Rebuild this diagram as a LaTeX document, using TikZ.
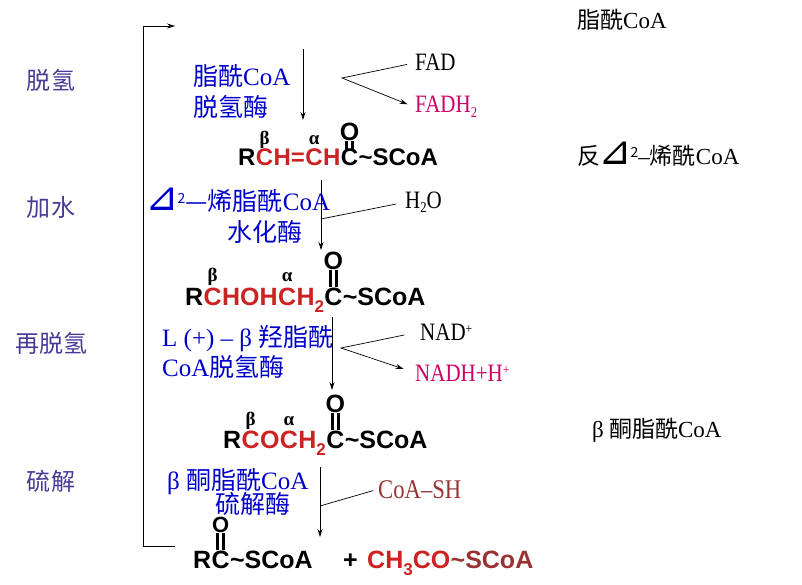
\documentclass[tikz,border=0pt]{standalone}
\usepackage{fontspec}
\usetikzlibrary{arrows.meta}
\setmainfont{Liberation Serif}
\newfontfamily\cjk{Noto Sans CJK SC}
\newfontfamily\latn[FakeStretch=0.84]{Liberation Serif}
\newfontfamily\latr{Liberation Serif}
\newfontfamily\chem{Liberation Sans}
\newfontfamily\symf{DejaVu Sans}
\definecolor{stagecol}{RGB}{70,60,150}
\definecolor{enzcol}{RGB}{0,0,204}
\definecolor{redcol}{RGB}{204,34,34}
\definecolor{magcol}{RGB}{204,0,102}
\definecolor{browncol}{RGB}{153,51,51}
\newcommand\subn[1]{\raisebox{-7pt}{\fontsize{17}{17}\selectfont #1}}
\newcommand\subl[1]{\raisebox{-5pt}{\fontsize{15}{15}\selectfont #1}}
\newcommand\supn[1]{\raisebox{7pt}{\fontsize{14}{14}\selectfont #1}}
\newcommand\tri{{\symf\fontsize{40}{40}\selectfont\kern-2pt ⊿\kern-1pt}}

\begin{document}
\begin{tikzpicture}[x=1pt,y=-1pt,
		stage/.style={font=\cjk\fontsize{24}{28}\selectfont,text=stagecol,inner sep=0pt},
		state/.style={font=\cjk\fontsize{23}{28}\selectfont,inner sep=0pt,anchor=base west},
		enzyme/.style={font=\cjk\fontsize{25}{30}\selectfont,text=enzcol,inner sep=0pt,anchor=base west},
		cofac/.style={font=\latn\fontsize{25}{28}\selectfont,inner sep=0pt,anchor=base west},
		chem/.style={font=\chem\bfseries\fontsize{25}{28}\selectfont,inner sep=0pt,anchor=base west},
		greek/.style={font=\bfseries\fontsize{19}{20}\selectfont,inner sep=0pt,anchor=base},
		flow/.style={-{Stealth[length=8pt,width=5pt]},line width=0.7pt},
		bond/.style={line width=2.5pt}]
		\useasboundingbox (0,0) rectangle (802,585);
		% stages
		\node[stage] (s1) at (51,80) {脱氢};
		\node[stage] (s2) at (51,207) {加水};
		\node[stage] (s3) at (51,343) {再脱氢};
		\node[stage] (s4) at (51,481) {硫解};
		% intermediates
		\node[state] (m1) at (577,29) {脂酰{\latr CoA}};
		\node[state] (m2) at (577,165) {反\tri\supn{2}{\latr –}烯酰{\latr CoA}};
		\node[state] (m3) at (592,437) {{\latr β} 酮脂酰{\latr CoA}};
		% enzymes
		\node[enzyme] (e1a) at (193,86) {脂酰{\latr CoA}};
		\node[enzyme] (e1b) at (193,117) {脱氢酶};
		\node[enzyme] (e2a) at (147,211) {\tri\supn{2}—烯脂酰{\latr CoA}};
		\node[enzyme] (e2b) at (227,241) {水化酶};
		\node[enzyme] (e3a) at (162,346) {{\latr L (+) – β }羟脂酰};
		\node[enzyme] (e3b) at (162,376) {{\latr CoA}脱氢酶};
		\node[enzyme] (e4a) at (167,489) {{\latr β }酮脂酰{\latr CoA}};
		\node[enzyme] (e4b) at (215,513) {硫解酶};
		% cofactors
		\node[cofac] (fad) at (415,71) {FAD};
		\node[cofac,text=magcol] (fadh) at (415,113) {FADH\subl{2}};
		\node[cofac] (h2o) at (405,208) {H\subl{2}O};
		\node[cofac] (nad) at (420,340) {NAD\supn{+}};
		\node[cofac,text=magcol] (nadh) at (415,381) {NADH+H\supn{+}};
		\node[cofac,text=browncol,font=\latn\fontsize{27}{28}\selectfont] (coash) at (378,498) {CoA–SH};
		% formula 1
		\node[chem,font=\chem\bfseries\fontsize{24}{28}\selectfont] (f1r) at (238,166) {R};
		\node[chem,font=\chem\bfseries\fontsize{24}{28}\selectfont,text=redcol] (f1cb) at (f1r.base east) {C};
		\node[chem,font=\chem\bfseries\fontsize{24}{28}\selectfont,text=redcol] (f1m) at (f1cb.base east) {H=};
		\node[chem,font=\chem\bfseries\fontsize{24}{28}\selectfont,text=redcol] (f1ca) at (f1m.base east) {C};
		\node[chem,font=\chem\bfseries\fontsize{24}{28}\selectfont,text=redcol] (f1h) at (f1ca.base east) {H};
		\node[chem,font=\chem\bfseries\fontsize{24}{28}\selectfont] (f1c) at (f1h.base east) {C};
		\node[chem,font=\chem\bfseries\fontsize{24}{28}\selectfont] (f1s) at (f1c.base east) {\textasciitilde SCoA};
		\node[greek] (f1b) at ([yshift=5pt]f1cb.north) {β};
		\node[greek] (f1a) at ([yshift=5pt]f1ca.north) {α};
		\node[chem,anchor=south] (f1o) at ([yshift=8pt]f1c.north) {O};
		\draw[bond] ([xshift=-3pt]f1o.south) -- ([xshift=-3pt]f1c.north);
		\draw[bond] ([xshift=3pt]f1o.south) -- ([xshift=3pt]f1c.north);
		% formula 2
		\node[chem] (f2r) at (185,305) {R};
		\node[chem,text=redcol] (f2cb) at (f2r.base east) {C};
		\node[chem,text=redcol] (f2m) at (f2cb.base east) {HOH};
		\node[chem,text=redcol] (f2ca) at (f2m.base east) {C};
		\node[chem,text=redcol] (f2h) at (f2ca.base east) {H\subn{2}};
		\node[chem] (f2c) at (f2h.base east) {C};
		\node[chem] (f2s) at (f2c.base east) {\textasciitilde SCoA};
		\node[greek] (f2b) at ([yshift=6pt]f2cb.north) {β};
		\node[greek] (f2a) at ([yshift=6pt]f2ca.north) {α};
		\node[chem,anchor=south] (f2o) at ([yshift=17pt]f2c.north) {O};
		\draw[bond] ([xshift=-3pt]f2o.south) -- ([xshift=-3pt]f2c.north);
		\draw[bond] ([xshift=3pt]f2o.south) -- ([xshift=3pt]f2c.north);
		% formula 3
		\node[chem] (f3r) at (223,448) {R};
		\node[chem,text=redcol] (f3cb) at (f3r.base east) {C};
		\node[chem,text=redcol] (f3m) at (f3cb.base east) {O};
		\node[chem,text=redcol] (f3ca) at (f3m.base east) {C};
		\node[chem,text=redcol] (f3h) at (f3ca.base east) {H\subn{2}};
		\node[chem] (f3c) at (f3h.base east) {C};
		\node[chem] (f3s) at (f3c.base east) {\textasciitilde SCoA};
		\node[greek] (f3b) at ([yshift=5pt]f3cb.north) {β};
		\node[greek] (f3a) at ([yshift=5pt]f3ca.north) {α};
		\node[chem,anchor=south] (f3o) at ([yshift=17pt]f3c.north) {O};
		\draw[bond] ([xshift=-3pt]f3o.south) -- ([xshift=-3pt]f3c.north);
		\draw[bond] ([xshift=3pt]f3o.south) -- ([xshift=3pt]f3c.north);
		% products
		\node[chem] (f4r) at (193,568) {R};
		\node[chem] (f4c) at (f4r.base east) {C};
		\node[chem] (f4s) at (f4c.base east) {\textasciitilde SCoA};
		\node[chem,anchor=south,font=\chem\bfseries\fontsize{22}{24}\selectfont] (f4o) at ([yshift=17pt]f4c.north) {O};
		\draw[bond] ([xshift=-3pt]f4o.south) -- ([xshift=-3pt]f4c.north);
		\draw[bond] ([xshift=3pt]f4o.south) -- ([xshift=3pt]f4c.north);
		\node[chem] (plus) at (343,568) {+};
		\node[chem,text=redcol] (p1) at (367,568) {CH\subn{3}CO};
		\node[chem,text=browncol] (p2) at (p1.base east) {\textasciitilde SCoA};
		% main arrows
		\coordinate (a1t) at (303,49);
		\coordinate (a1b) at (303,120);
		\coordinate (a2t) at (321,180);
		\coordinate (a2b) at (321,250);
		\coordinate (a3t) at (332,317);
		\coordinate (a3b) at (332,390);
		\coordinate (a4t) at (320,467);
		\coordinate (a4b) at (320,537);
		\draw[flow] (a1t) -- (a1b);
		\draw[flow] (a2t) -- (a2b);
		\draw[flow] (a3t) -- (a3b);
		\draw[flow] (a4t) -- (a4b);
		% side branches
		\coordinate (b1) at (342,78);
		\coordinate (b2) at (321,219);
		\coordinate (b3) at (341,348);
		\coordinate (b4) at (320,506);
		\draw[flow,shorten <=8pt,shorten >=8pt] (fad.west) -- (b1) -- (fadh.west);
		\draw[line width=0.7pt,shorten <=9pt] (h2o.west) -- (b2);
		\draw[flow,shorten <=16pt,shorten >=12pt] (nad.west) -- (b3) -- (nadh.west);
		\draw[line width=0.7pt,shorten <=5pt] (coash.west) -- (b4);
		% return line
		\coordinate (rs) at (175,546);
		\coordinate (re) at (175,26);
		\draw[flow] (rs) -- ++(-32,0) |- (re);
	\end{tikzpicture}
\end{document}
